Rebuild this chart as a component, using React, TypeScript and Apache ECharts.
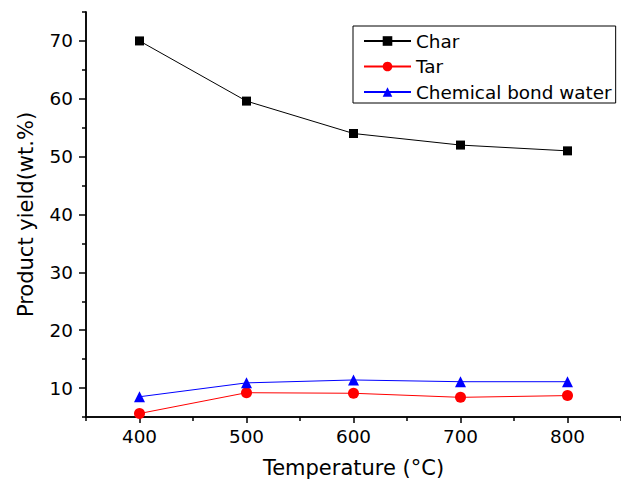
import React, { useEffect, useRef } from "react";
import * as echarts from "echarts";

const temperatures = [400, 500, 600, 700, 800];
const charYield = [70, 59.6, 54, 52, 51];
const tarYield = [5.6, 9.2, 9.1, 8.4, 8.7];
const waterYield = [8.5, 10.9, 11.4, 11.1, 11.1];

const xMajorTicks = [400, 500, 600, 700, 800];
const xMinorTicks = [350, 450, 550, 650, 750, 850];
const yMajorTicks = [10, 20, 30, 40, 50, 60, 70];
const yMinorTicks = [5, 15, 25, 35, 45, 55, 65, 75];

const FONT = "DejaVu Sans";

export default function App() {
  const ref = useRef<HTMLDivElement>(null);
  useEffect(() => {
    if (!ref.current) return;
    const chart = echarts.init(ref.current, null, { renderer: "svg" });
    const pairs = (ys: number[]) => temperatures.map((t, i) => [t, ys[i]]);
    const axisLine = { show: true, lineStyle: { color: "#000", width: 1.5 } };
    chart.setOption({
      animation: false,
      backgroundColor: "#fff",
      textStyle: { fontFamily: FONT },
      grid: { left: 86, top: 12, width: 545, height: 405 },
      legend: {
        left: 353,
        top: 26,
        orient: "vertical",
        itemWidth: 47,
        itemHeight: 12,
        itemGap: 7.5,
        padding: [6, 4, 2, 10],
        borderColor: "#000",
        borderWidth: 1,
        selectedMode: false,
        textStyle: { fontFamily: FONT, fontSize: 18.4, color: "#000" },
        data: ["Char", "Tar", "Chemical bond water"],
      },
      xAxis: [
        {
          type: "value",
          min: 350,
          max: 850,
          position: "bottom",
          name: "Temperature (\u00B0C)",
          nameLocation: "middle",
          nameGap: 40,
          nameTextStyle: { fontFamily: FONT, fontSize: 21, color: "#000" },
          axisLine,
          axisTick: { show: true, length: 6, customValues: xMajorTicks, lineStyle: { color: "#000", width: 1.5 } },
          axisLabel: { show: true, margin: 10, customValues: xMajorTicks, fontFamily: FONT, fontSize: 18.4, color: "#000" },
          splitLine: { show: false },
        },
        {
          type: "value",
          min: 350,
          max: 850,
          position: "bottom",
          offset: 0,
          axisLine,
          axisTick: { show: true, length: 4, customValues: xMinorTicks, lineStyle: { color: "#000", width: 1.5 } },
          axisLabel: { show: false },
          splitLine: { show: false },
        },
      ],
      yAxis: [
        {
          type: "value",
          min: 5,
          max: 75,
          position: "left",
          name: "Product yield(wt.%)",
          nameLocation: "middle",
          nameGap: 50,
          nameTextStyle: { fontFamily: FONT, fontSize: 21, color: "#000" },
          axisLine,
          axisTick: { show: true, length: 7, customValues: yMajorTicks, lineStyle: { color: "#000", width: 1.5 } },
          axisLabel: { show: true, margin: 13, customValues: yMajorTicks, fontFamily: FONT, fontSize: 18.4, color: "#000" },
          splitLine: { show: false },
        },
        {
          type: "value",
          min: 5,
          max: 75,
          position: "left",
          offset: 0,
          axisLine,
          axisTick: { show: true, length: 4, customValues: yMinorTicks, lineStyle: { color: "#000", width: 1.5 } },
          axisLabel: { show: false },
          splitLine: { show: false },
        },
      ],
      series: [
        {
          name: "Char",
          type: "line",
          data: pairs(charYield),
          symbol: "rect",
          symbolSize: 9,
          lineStyle: { color: "#000", width: 1 },
          itemStyle: { color: "#000" },
        },
        {
          name: "Tar",
          type: "line",
          data: pairs(tarYield),
          symbol: "circle",
          symbolSize: 11,
          lineStyle: { color: "#ff0000", width: 1 },
          itemStyle: { color: "#ff0000" },
        },
        {
          name: "Chemical bond water",
          type: "line",
          data: pairs(waterYield),
          symbol: "triangle",
          symbolSize: 11,
          lineStyle: { color: "#0000ff", width: 1 },
          itemStyle: { color: "#0000ff" },
        },
      ],
    });
    return () => chart.dispose();
  }, []);
  return (
    <div
      ref={ref}
      style={{ position: "fixed", left: 0, top: 0, width: 621, height: 483 }}
    />
  );
}
